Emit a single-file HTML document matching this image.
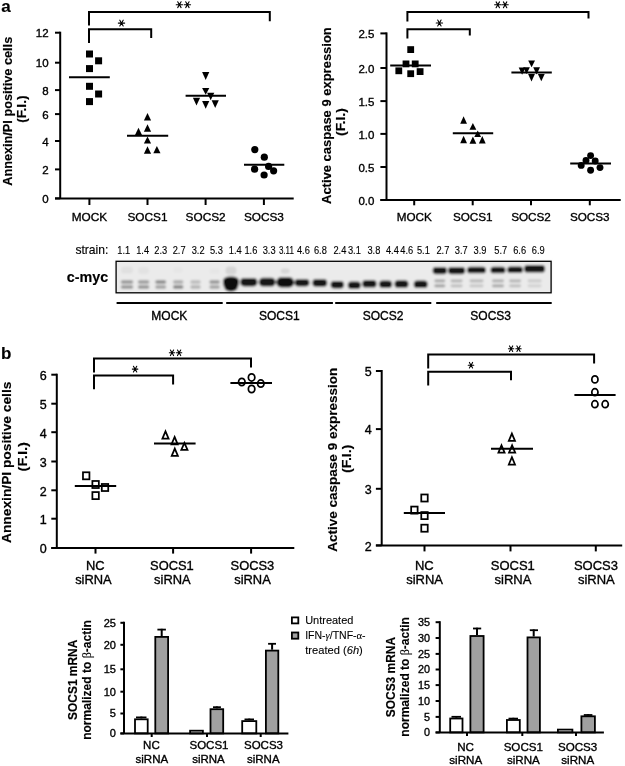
<!DOCTYPE html>
<html><head><meta charset="utf-8"><style>
html,body{margin:0;padding:0;background:#fff;}
body{width:625px;height:766px;overflow:hidden;}
svg{display:block;font-family:"Liberation Sans", sans-serif;will-change:transform;}
text{fill:#000;stroke:#000;stroke-width:0.35px;} text[font-weight=bold]{stroke-width:0.15px;}
</style></head><body>
<svg width="625" height="766" viewBox="0 0 625 766">
<defs><filter id="bl" x="-5%" y="-20%" width="110%" height="140%"><feGaussianBlur stdDeviation="1.0"/></filter></defs>
<rect width="625" height="766" fill="#fff"/>
<text x="1.20" y="11.60" font-size="17" text-anchor="start" font-weight="bold">a</text>
<line x1="60.20" y1="31.70" x2="60.20" y2="198.40" stroke="#000" stroke-width="2.0"/>
<line x1="55.00" y1="32.70" x2="60.20" y2="32.70" stroke="#000" stroke-width="2.0"/>
<text x="48.60" y="37.22" font-size="11.5" text-anchor="end">12</text>
<line x1="55.00" y1="62.70" x2="60.20" y2="62.70" stroke="#000" stroke-width="2.0"/>
<text x="48.60" y="67.22" font-size="11.5" text-anchor="end">10</text>
<line x1="55.00" y1="90.10" x2="60.20" y2="90.10" stroke="#000" stroke-width="2.0"/>
<text x="48.60" y="94.62" font-size="11.5" text-anchor="end">8</text>
<line x1="55.00" y1="114.10" x2="60.20" y2="114.10" stroke="#000" stroke-width="2.0"/>
<text x="48.60" y="118.62" font-size="11.5" text-anchor="end">6</text>
<line x1="55.00" y1="141.00" x2="60.20" y2="141.00" stroke="#000" stroke-width="2.0"/>
<text x="48.60" y="145.52" font-size="11.5" text-anchor="end">4</text>
<line x1="55.00" y1="169.40" x2="60.20" y2="169.40" stroke="#000" stroke-width="2.0"/>
<text x="48.60" y="173.92" font-size="11.5" text-anchor="end">2</text>
<line x1="55.00" y1="198.40" x2="60.20" y2="198.40" stroke="#000" stroke-width="2.0"/>
<text x="48.60" y="202.92" font-size="11.5" text-anchor="end">0</text>
<line x1="55.00" y1="198.40" x2="293.70" y2="198.40" stroke="#000" stroke-width="2.0"/>
<line x1="89.40" y1="198.40" x2="89.40" y2="205.00" stroke="#000" stroke-width="2.0"/>
<text x="89.40" y="221.20" font-size="11.8" text-anchor="middle">MOCK</text>
<line x1="147.50" y1="198.40" x2="147.50" y2="205.00" stroke="#000" stroke-width="2.0"/>
<text x="147.50" y="221.20" font-size="11.8" text-anchor="middle">SOCS1</text>
<line x1="205.60" y1="198.40" x2="205.60" y2="205.00" stroke="#000" stroke-width="2.0"/>
<text x="205.60" y="221.20" font-size="11.8" text-anchor="middle">SOCS2</text>
<line x1="263.90" y1="198.40" x2="263.90" y2="205.00" stroke="#000" stroke-width="2.0"/>
<text x="263.90" y="221.20" font-size="11.8" text-anchor="middle">SOCS3</text>
<polyline points="89.00,25.60 89.00,12.00 269.80,12.00 269.80,21.30" fill="none" stroke="#000" stroke-width="2.0"/>
<polyline points="89.00,42.90 89.00,29.30 151.20,29.30 151.20,38.00" fill="none" stroke="#000" stroke-width="2.0"/>
<path d="M118.33,23.10H124.67M119.81,20.18L123.19,26.02M123.19,20.18L119.81,26.02" stroke="#000" stroke-width="1.1" fill="none" stroke-linecap="round"/>
<path d="M176.23,4.70H182.57M177.71,1.78L181.09,7.62M181.09,1.78L177.71,7.62" stroke="#000" stroke-width="1.1" fill="none" stroke-linecap="round"/>
<path d="M184.23,4.70H190.57M185.71,1.78L189.09,7.62M189.09,1.78L185.71,7.62" stroke="#000" stroke-width="1.1" fill="none" stroke-linecap="round"/>
<rect x="86.00" y="50.50" width="7.0" height="7.0" fill="#000"/>
<rect x="95.10" y="57.30" width="7.0" height="7.0" fill="#000"/>
<rect x="86.00" y="65.10" width="7.0" height="7.0" fill="#000"/>
<rect x="86.00" y="82.80" width="7.0" height="7.0" fill="#000"/>
<rect x="95.10" y="90.50" width="7.0" height="7.0" fill="#000"/>
<rect x="86.00" y="98.10" width="7.0" height="7.0" fill="#000"/>
<line x1="69.00" y1="77.30" x2="109.80" y2="77.30" stroke="#000" stroke-width="2.0"/>
<polygon points="147.50,113.10 151.10,120.50 143.90,120.50" fill="#000"/>
<polygon points="147.50,124.30 151.10,131.70 143.90,131.70" fill="#000"/>
<polygon points="138.50,127.70 142.10,135.20 134.90,135.20" fill="#000"/>
<polygon points="147.50,136.40 151.10,143.60 143.90,143.60" fill="#000"/>
<polygon points="147.50,146.20 151.10,153.70 143.90,153.70" fill="#000"/>
<polygon points="156.90,145.90 160.50,153.20 153.30,153.20" fill="#000"/>
<line x1="127.00" y1="135.80" x2="168.20" y2="135.80" stroke="#000" stroke-width="2.0"/>
<polygon points="202.10,72.10 209.30,72.10 205.70,79.90" fill="#000"/>
<polygon points="202.10,88.00 209.30,88.00 205.70,94.70" fill="#000"/>
<polygon points="207.10,92.80 214.30,92.80 210.70,100.30" fill="#000"/>
<polygon points="192.90,97.80 200.10,97.80 196.50,105.40" fill="#000"/>
<polygon points="202.10,100.90 209.30,100.90 205.70,108.70" fill="#000"/>
<polygon points="211.60,100.30 218.80,100.30 215.20,107.90" fill="#000"/>
<line x1="185.60" y1="95.80" x2="226.00" y2="95.80" stroke="#000" stroke-width="2.0"/>
<circle cx="254.80" cy="149.60" r="3.60" fill="#000"/>
<circle cx="264.30" cy="157.20" r="3.60" fill="#000"/>
<circle cx="268.60" cy="166.40" r="3.60" fill="#000"/>
<circle cx="254.60" cy="169.20" r="3.60" fill="#000"/>
<circle cx="273.60" cy="170.80" r="3.60" fill="#000"/>
<circle cx="264.10" cy="175.00" r="3.60" fill="#000"/>
<line x1="244.00" y1="164.70" x2="284.30" y2="164.70" stroke="#000" stroke-width="2.0"/>
<text transform="translate(12.10,111.30) rotate(-90)" x="0" y="0" font-size="12.8" text-anchor="middle" font-weight="bold" textLength="149" lengthAdjust="spacingAndGlyphs">Annexin/PI positive cells</text>
<text transform="translate(26.00,109.15) rotate(-90)" x="0" y="0" font-size="12.8" text-anchor="middle" font-weight="bold" textLength="27.2" lengthAdjust="spacingAndGlyphs">(F.I.)</text>
<line x1="386.50" y1="32.40" x2="386.50" y2="200.00" stroke="#000" stroke-width="2.0"/>
<line x1="380.40" y1="33.40" x2="386.50" y2="33.40" stroke="#000" stroke-width="2.0"/>
<text x="374.40" y="38.32" font-size="11.5" text-anchor="end">2.5</text>
<line x1="380.40" y1="68.00" x2="386.50" y2="68.00" stroke="#000" stroke-width="2.0"/>
<text x="374.40" y="72.92" font-size="11.5" text-anchor="end">2.0</text>
<line x1="380.40" y1="101.10" x2="386.50" y2="101.10" stroke="#000" stroke-width="2.0"/>
<text x="374.40" y="106.02" font-size="11.5" text-anchor="end">1.5</text>
<line x1="380.40" y1="133.90" x2="386.50" y2="133.90" stroke="#000" stroke-width="2.0"/>
<text x="374.40" y="138.82" font-size="11.5" text-anchor="end">1.0</text>
<line x1="380.40" y1="167.00" x2="386.50" y2="167.00" stroke="#000" stroke-width="2.0"/>
<text x="374.40" y="171.92" font-size="11.5" text-anchor="end">0.5</text>
<line x1="380.40" y1="200.00" x2="386.50" y2="200.00" stroke="#000" stroke-width="2.0"/>
<text x="374.40" y="204.92" font-size="11.5" text-anchor="end">0.0</text>
<line x1="380.40" y1="200.00" x2="620.70" y2="200.00" stroke="#000" stroke-width="2.0"/>
<line x1="414.20" y1="200.00" x2="414.20" y2="205.30" stroke="#000" stroke-width="2.0"/>
<text x="414.20" y="221.30" font-size="11.7" text-anchor="middle">MOCK</text>
<line x1="472.70" y1="200.00" x2="472.70" y2="205.30" stroke="#000" stroke-width="2.0"/>
<text x="472.70" y="221.30" font-size="11.7" text-anchor="middle">SOCS1</text>
<line x1="531.00" y1="200.00" x2="531.00" y2="205.30" stroke="#000" stroke-width="2.0"/>
<text x="531.00" y="221.30" font-size="11.7" text-anchor="middle">SOCS2</text>
<line x1="589.80" y1="200.00" x2="589.80" y2="205.30" stroke="#000" stroke-width="2.0"/>
<text x="589.80" y="221.30" font-size="11.7" text-anchor="middle">SOCS3</text>
<polyline points="407.40,21.60 407.40,12.00 588.50,12.00 588.50,18.40" fill="none" stroke="#000" stroke-width="2.0"/>
<polyline points="407.40,38.40 407.40,29.30 469.80,29.30 469.80,35.50" fill="none" stroke="#000" stroke-width="2.0"/>
<path d="M436.23,23.00H442.57M437.71,20.08L441.09,25.92M441.09,20.08L437.71,25.92" stroke="#000" stroke-width="1.1" fill="none" stroke-linecap="round"/>
<path d="M494.63,4.80H500.97M496.11,1.88L499.49,7.72M499.49,1.88L496.11,7.72" stroke="#000" stroke-width="1.1" fill="none" stroke-linecap="round"/>
<path d="M501.93,4.80H508.27M503.41,1.88L506.79,7.72M506.79,1.88L503.41,7.72" stroke="#000" stroke-width="1.1" fill="none" stroke-linecap="round"/>
<rect x="407.30" y="46.20" width="6.8" height="6.8" fill="#000"/>
<rect x="402.60" y="60.50" width="6.8" height="6.8" fill="#000"/>
<rect x="411.80" y="60.50" width="6.8" height="6.8" fill="#000"/>
<rect x="395.40" y="67.40" width="6.8" height="6.8" fill="#000"/>
<rect x="407.30" y="70.30" width="6.8" height="6.8" fill="#000"/>
<rect x="416.70" y="68.20" width="6.8" height="6.8" fill="#000"/>
<line x1="390.20" y1="65.60" x2="431.00" y2="65.60" stroke="#000" stroke-width="2.0"/>
<polygon points="463.60,116.20 467.00,123.80 460.20,123.80" fill="#000"/>
<polygon points="472.90,123.00 476.30,129.80 469.50,129.80" fill="#000"/>
<polygon points="477.70,130.40 481.10,137.00 474.30,137.00" fill="#000"/>
<polygon points="463.60,135.80 467.00,143.20 460.20,143.20" fill="#000"/>
<polygon points="472.90,136.60 476.30,143.80 469.50,143.80" fill="#000"/>
<polygon points="482.30,136.00 485.70,143.40 478.90,143.40" fill="#000"/>
<line x1="452.80" y1="133.20" x2="493.20" y2="133.20" stroke="#000" stroke-width="2.0"/>
<polygon points="528.20,60.40 535.00,60.40 531.60,67.20" fill="#000"/>
<polygon points="518.70,67.40 525.50,67.40 522.10,74.80" fill="#000"/>
<polygon points="523.10,67.20 529.90,67.20 526.50,74.00" fill="#000"/>
<polygon points="533.20,67.20 540.00,67.20 536.60,74.40" fill="#000"/>
<polygon points="528.10,74.00 534.90,74.00 531.50,81.60" fill="#000"/>
<polygon points="537.90,74.00 544.70,74.00 541.30,81.20" fill="#000"/>
<line x1="511.40" y1="72.40" x2="551.80" y2="72.40" stroke="#000" stroke-width="2.0"/>
<circle cx="590.60" cy="155.60" r="3.45" fill="#000"/>
<circle cx="586.00" cy="160.40" r="3.45" fill="#000"/>
<circle cx="595.20" cy="161.00" r="3.45" fill="#000"/>
<circle cx="581.20" cy="165.40" r="3.45" fill="#000"/>
<circle cx="600.00" cy="167.60" r="3.45" fill="#000"/>
<circle cx="590.60" cy="170.20" r="3.45" fill="#000"/>
<line x1="570.20" y1="163.40" x2="611.00" y2="163.40" stroke="#000" stroke-width="2.0"/>
<text transform="translate(331.00,115.60) rotate(-90)" x="0" y="0" font-size="12.8" text-anchor="middle" font-weight="bold" textLength="176.8" lengthAdjust="spacingAndGlyphs">Active caspase 9 expression</text>
<text transform="translate(345.20,122.10) rotate(-90)" x="0" y="0" font-size="12.8" text-anchor="middle" font-weight="bold" textLength="27.8" lengthAdjust="spacingAndGlyphs">(F.I.)</text>
<text x="75.40" y="253.90" font-size="12.8" text-anchor="start" textLength="33.0" lengthAdjust="spacingAndGlyphs" style="stroke-width:0.15px">strain:</text>
<text x="66.80" y="281.70" font-size="14" text-anchor="start" font-weight="bold" textLength="41.4" lengthAdjust="spacingAndGlyphs">c-myc</text>
<text x="123.70" y="254.30" font-size="10" text-anchor="middle" textLength="12.9" lengthAdjust="spacingAndGlyphs" style="stroke-width:0.12px">1.1</text>
<text x="142.60" y="254.30" font-size="10" text-anchor="middle" textLength="12.9" lengthAdjust="spacingAndGlyphs" style="stroke-width:0.12px">1.4</text>
<text x="160.70" y="254.30" font-size="10" text-anchor="middle" textLength="12.9" lengthAdjust="spacingAndGlyphs" style="stroke-width:0.12px">2.3</text>
<text x="179.10" y="254.30" font-size="10" text-anchor="middle" textLength="12.9" lengthAdjust="spacingAndGlyphs" style="stroke-width:0.12px">2.7</text>
<text x="198.10" y="254.30" font-size="10" text-anchor="middle" textLength="12.9" lengthAdjust="spacingAndGlyphs" style="stroke-width:0.12px">3.2</text>
<text x="216.40" y="254.30" font-size="10" text-anchor="middle" textLength="12.9" lengthAdjust="spacingAndGlyphs" style="stroke-width:0.12px">5.3</text>
<text x="235.30" y="254.30" font-size="10" text-anchor="middle" textLength="12.9" lengthAdjust="spacingAndGlyphs" style="stroke-width:0.12px">1.4</text>
<text x="250.90" y="254.30" font-size="10" text-anchor="middle" textLength="12.9" lengthAdjust="spacingAndGlyphs" style="stroke-width:0.12px">1.6</text>
<text x="269.10" y="254.30" font-size="10" text-anchor="middle" textLength="12.9" lengthAdjust="spacingAndGlyphs" style="stroke-width:0.12px">3.3</text>
<text x="286.40" y="254.30" font-size="10" text-anchor="middle" textLength="15.0" lengthAdjust="spacingAndGlyphs" style="stroke-width:0.12px">3.11</text>
<text x="303.40" y="254.30" font-size="10" text-anchor="middle" textLength="12.9" lengthAdjust="spacingAndGlyphs" style="stroke-width:0.12px">4.6</text>
<text x="320.40" y="254.30" font-size="10" text-anchor="middle" textLength="12.9" lengthAdjust="spacingAndGlyphs" style="stroke-width:0.12px">6.8</text>
<text x="339.90" y="254.30" font-size="10" text-anchor="middle" textLength="12.9" lengthAdjust="spacingAndGlyphs" style="stroke-width:0.12px">2.4</text>
<text x="354.40" y="254.30" font-size="10" text-anchor="middle" textLength="12.9" lengthAdjust="spacingAndGlyphs" style="stroke-width:0.12px">3.1</text>
<text x="373.90" y="254.30" font-size="10" text-anchor="middle" textLength="12.9" lengthAdjust="spacingAndGlyphs" style="stroke-width:0.12px">3.8</text>
<text x="392.40" y="254.30" font-size="10" text-anchor="middle" textLength="12.9" lengthAdjust="spacingAndGlyphs" style="stroke-width:0.12px">4.4</text>
<text x="406.80" y="254.30" font-size="10" text-anchor="middle" textLength="12.9" lengthAdjust="spacingAndGlyphs" style="stroke-width:0.12px">4.6</text>
<text x="423.40" y="254.30" font-size="10" text-anchor="middle" textLength="12.9" lengthAdjust="spacingAndGlyphs" style="stroke-width:0.12px">5.1</text>
<text x="442.90" y="254.30" font-size="10" text-anchor="middle" textLength="12.9" lengthAdjust="spacingAndGlyphs" style="stroke-width:0.12px">2.7</text>
<text x="461.20" y="254.30" font-size="10" text-anchor="middle" textLength="12.9" lengthAdjust="spacingAndGlyphs" style="stroke-width:0.12px">3.7</text>
<text x="480.00" y="254.30" font-size="10" text-anchor="middle" textLength="12.9" lengthAdjust="spacingAndGlyphs" style="stroke-width:0.12px">3.9</text>
<text x="500.80" y="254.30" font-size="10" text-anchor="middle" textLength="12.9" lengthAdjust="spacingAndGlyphs" style="stroke-width:0.12px">5.7</text>
<text x="519.60" y="254.30" font-size="10" text-anchor="middle" textLength="12.9" lengthAdjust="spacingAndGlyphs" style="stroke-width:0.12px">6.6</text>
<text x="538.30" y="254.30" font-size="10" text-anchor="middle" textLength="12.9" lengthAdjust="spacingAndGlyphs" style="stroke-width:0.12px">6.9</text>
<g filter="url(#bl)"><rect x="115.5" y="260.7" width="436.3" height="32.6" fill="#ebebeb"/><rect x="120.75" y="280.20" width="12.50" height="3.60" rx="1.73" ry="1.73" fill="#979797" opacity="1.0"/><rect x="120.75" y="285.20" width="12.50" height="3.60" rx="1.73" ry="1.73" fill="#979797" opacity="1.0"/><rect x="137.85" y="280.20" width="11.50" height="3.60" rx="1.73" ry="1.73" fill="#9c9c9c" opacity="1.0"/><rect x="137.85" y="285.20" width="11.50" height="3.60" rx="1.73" ry="1.73" fill="#959595" opacity="1.0"/><rect x="155.20" y="280.20" width="11.00" height="3.60" rx="1.73" ry="1.73" fill="#8a8a8a" opacity="1.0"/><rect x="155.20" y="285.20" width="11.00" height="3.60" rx="1.73" ry="1.73" fill="#a2a2a2" opacity="1.0"/><rect x="172.95" y="280.20" width="10.50" height="3.60" rx="1.73" ry="1.73" fill="#acacac" opacity="1.0"/><rect x="172.95" y="285.20" width="10.50" height="3.60" rx="1.73" ry="1.73" fill="#858585" opacity="1.0"/><rect x="190.25" y="280.20" width="10.50" height="3.60" rx="1.73" ry="1.73" fill="#bcbcbc" opacity="1.0"/><rect x="190.25" y="285.20" width="10.50" height="3.60" rx="1.73" ry="1.73" fill="#b4b4b4" opacity="1.0"/><rect x="209.35" y="280.20" width="10.50" height="3.60" rx="1.73" ry="1.73" fill="#959595" opacity="1.0"/><rect x="209.35" y="285.20" width="10.50" height="3.60" rx="1.73" ry="1.73" fill="#a4a4a4" opacity="1.0"/><rect x="121.00" y="266.50" width="12.00" height="7.00" rx="3.36" ry="3.36" fill="#e0e0e0" opacity="1.0"/><rect x="138.10" y="267.00" width="11.00" height="7.00" rx="3.36" ry="3.36" fill="#e2e2e2" opacity="1.0"/><rect x="173.20" y="267.00" width="10.00" height="6.00" rx="2.88" ry="2.88" fill="#e6e6e6" opacity="1.0"/><rect x="209.60" y="268.00" width="10.00" height="6.00" rx="2.88" ry="2.88" fill="#e6e6e6" opacity="1.0"/><path d="M222.9,281.5 Q222.9,276.6 231,276.6 Q239.1,276.6 239.1,281.5 Q239.1,285 237.3,288.6 Q236.4,291.4 231,291.4 Q225.6,291.4 224.7,288.6 Q222.9,285 222.9,281.5 Z" fill="#0c0c0c"/><rect x="225.50" y="266.50" width="11.00" height="8.00" rx="3.84" ry="3.84" fill="#d4d4d4" opacity="1.0"/><rect x="240.20" y="278.00" width="17.20" height="8.40" rx="4.03" ry="4.03" fill="#161616" opacity="1.0"/><rect x="258.80" y="277.70" width="16.80" height="8.80" rx="4.22" ry="4.22" fill="#161616" opacity="1.0"/><rect x="276.30" y="277.20" width="17.80" height="10.20" rx="4.90" ry="4.90" fill="#101010" opacity="1.0"/><rect x="280.70" y="268.50" width="9.00" height="5.00" rx="2.40" ry="2.40" fill="#d6d6d6" opacity="1.0"/><rect x="294.50" y="279.00" width="15.00" height="7.40" rx="3.55" ry="3.55" fill="#181818" opacity="1.0"/><rect x="312.35" y="278.90" width="14.90" height="7.80" rx="3.74" ry="3.74" fill="#181818" opacity="1.0"/><rect x="330.55" y="280.90" width="13.50" height="7.60" rx="3.65" ry="3.65" fill="#141414" opacity="1.0"/><rect x="347.75" y="281.40" width="13.10" height="7.60" rx="3.65" ry="3.65" fill="#141414" opacity="1.0"/><rect x="362.20" y="280.00" width="14.40" height="7.60" rx="3.65" ry="3.65" fill="#141414" opacity="1.0"/><rect x="379.05" y="280.40" width="13.10" height="7.60" rx="3.65" ry="3.65" fill="#141414" opacity="1.0"/><rect x="394.50" y="280.20" width="14.00" height="7.60" rx="3.65" ry="3.65" fill="#141414" opacity="1.0"/><rect x="413.70" y="280.50" width="14.00" height="7.60" rx="3.65" ry="3.65" fill="#141414" opacity="1.0"/><rect x="432.60" y="267.10" width="14.40" height="7.20" rx="3.46" ry="3.46" fill="#121212" opacity="1.0"/><rect x="447.95" y="267.10" width="17.30" height="7.20" rx="3.46" ry="3.46" fill="#121212" opacity="1.0"/><rect x="467.10" y="266.65" width="18.80" height="6.70" rx="3.22" ry="3.22" fill="#121212" opacity="1.0"/><rect x="490.50" y="266.70" width="15.00" height="6.60" rx="3.17" ry="3.17" fill="#121212" opacity="1.0"/><rect x="507.25" y="266.55" width="15.70" height="6.50" rx="3.12" ry="3.12" fill="#121212" opacity="1.0"/><rect x="524.05" y="265.00" width="21.10" height="7.60" rx="3.65" ry="3.65" fill="#121212" opacity="1.0"/><rect x="434.30" y="279.40" width="11.00" height="2.80" rx="1.34" ry="1.34" fill="#a4a4a4" opacity="1.0"/><rect x="434.30" y="284.40" width="11.00" height="2.80" rx="1.34" ry="1.34" fill="#9c9c9c" opacity="1.0"/><rect x="450.60" y="279.40" width="12.00" height="2.80" rx="1.34" ry="1.34" fill="#b0b0b0" opacity="1.0"/><rect x="450.60" y="284.40" width="12.00" height="2.80" rx="1.34" ry="1.34" fill="#bcbcbc" opacity="1.0"/><rect x="469.50" y="279.40" width="14.00" height="2.80" rx="1.34" ry="1.34" fill="#b4b4b4" opacity="1.0"/><rect x="469.50" y="284.40" width="14.00" height="2.80" rx="1.34" ry="1.34" fill="#c4c4c4" opacity="1.0"/><rect x="492.00" y="279.40" width="12.00" height="2.80" rx="1.34" ry="1.34" fill="#acacac" opacity="1.0"/><rect x="492.00" y="284.40" width="12.00" height="2.80" rx="1.34" ry="1.34" fill="#a4a4a4" opacity="1.0"/><rect x="509.10" y="279.40" width="12.00" height="2.80" rx="1.34" ry="1.34" fill="#b0b0b0" opacity="1.0"/><rect x="509.10" y="284.40" width="12.00" height="2.80" rx="1.34" ry="1.34" fill="#bcbcbc" opacity="1.0"/><rect x="527.60" y="279.40" width="14.00" height="2.80" rx="1.34" ry="1.34" fill="#c8c8c8" opacity="1.0"/><rect x="527.60" y="284.40" width="14.00" height="2.80" rx="1.34" ry="1.34" fill="#d0d0d0" opacity="1.0"/></g>
<rect x="116.1" y="261.3" width="435.0" height="31.5" fill="none" stroke="#000" stroke-width="1.3"/>
<line x1="116.60" y1="302.90" x2="222.70" y2="302.90" stroke="#000" stroke-width="2.0"/>
<text x="169.30" y="320.40" font-size="12" text-anchor="middle">MOCK</text>
<line x1="226.20" y1="302.90" x2="332.90" y2="302.90" stroke="#000" stroke-width="2.0"/>
<text x="279.30" y="320.40" font-size="12" text-anchor="middle">SOCS1</text>
<line x1="335.20" y1="302.90" x2="431.30" y2="302.90" stroke="#000" stroke-width="2.0"/>
<text x="383.00" y="320.40" font-size="12" text-anchor="middle">SOCS2</text>
<line x1="436.20" y1="302.90" x2="551.70" y2="302.90" stroke="#000" stroke-width="2.0"/>
<text x="490.70" y="320.40" font-size="12" text-anchor="middle">SOCS3</text>
<text x="1.00" y="358.80" font-size="17" text-anchor="start" font-weight="bold">b</text>
<line x1="56.80" y1="373.70" x2="56.80" y2="548.00" stroke="#000" stroke-width="2.0"/>
<line x1="51.30" y1="374.70" x2="56.80" y2="374.70" stroke="#000" stroke-width="2.0"/>
<text x="46.60" y="380.18" font-size="12.5" text-anchor="end">6</text>
<line x1="51.30" y1="403.70" x2="56.80" y2="403.70" stroke="#000" stroke-width="2.0"/>
<text x="46.60" y="409.18" font-size="12.5" text-anchor="end">5</text>
<line x1="51.30" y1="432.20" x2="56.80" y2="432.20" stroke="#000" stroke-width="2.0"/>
<text x="46.60" y="437.68" font-size="12.5" text-anchor="end">4</text>
<line x1="51.30" y1="461.50" x2="56.80" y2="461.50" stroke="#000" stroke-width="2.0"/>
<text x="46.60" y="466.98" font-size="12.5" text-anchor="end">3</text>
<line x1="51.30" y1="490.30" x2="56.80" y2="490.30" stroke="#000" stroke-width="2.0"/>
<text x="46.60" y="495.78" font-size="12.5" text-anchor="end">2</text>
<line x1="51.30" y1="518.70" x2="56.80" y2="518.70" stroke="#000" stroke-width="2.0"/>
<text x="46.60" y="524.18" font-size="12.5" text-anchor="end">1</text>
<line x1="51.30" y1="548.00" x2="56.80" y2="548.00" stroke="#000" stroke-width="2.0"/>
<text x="46.60" y="553.48" font-size="12.5" text-anchor="end">0</text>
<line x1="51.30" y1="548.00" x2="294.30" y2="548.00" stroke="#000" stroke-width="2.0"/>
<line x1="95.50" y1="548.00" x2="95.50" y2="553.60" stroke="#000" stroke-width="2.0"/>
<text x="95.30" y="569.60" font-size="12.9" text-anchor="middle">NC</text>
<text x="93.40" y="584.30" font-size="12.9" text-anchor="middle">siRNA</text>
<line x1="173.10" y1="548.00" x2="173.10" y2="553.60" stroke="#000" stroke-width="2.0"/>
<text x="171.90" y="569.60" font-size="12.9" text-anchor="middle">SOCS1</text>
<text x="172.35" y="584.30" font-size="12.9" text-anchor="middle">siRNA</text>
<line x1="251.10" y1="548.00" x2="251.10" y2="553.60" stroke="#000" stroke-width="2.0"/>
<text x="252.40" y="569.60" font-size="12.9" text-anchor="middle">SOCS3</text>
<text x="252.50" y="584.30" font-size="12.9" text-anchor="middle">siRNA</text>
<polyline points="94.00,372.50 94.00,358.60 251.00,358.60 251.00,367.50" fill="none" stroke="#000" stroke-width="2.0"/>
<polyline points="94.00,389.30 94.00,375.40 173.10,375.40 173.10,384.40" fill="none" stroke="#000" stroke-width="2.0"/>
<path d="M132.33,369.10H137.87M133.44,366.23L136.76,371.97M136.76,366.23L133.44,371.97" stroke="#000" stroke-width="1.1" fill="none" stroke-linecap="round"/>
<path d="M169.33,352.80H174.67M170.40,350.03L173.60,355.57M173.60,350.03L170.40,355.57" stroke="#000" stroke-width="1.1" fill="none" stroke-linecap="round"/>
<path d="M176.43,352.80H181.77M177.50,350.03L180.70,355.57M180.70,350.03L177.50,355.57" stroke="#000" stroke-width="1.1" fill="none" stroke-linecap="round"/>
<rect x="82.98" y="472.28" width="6.45" height="7.05" fill="none" stroke="#000" stroke-width="1.75"/>
<rect x="92.38" y="480.98" width="6.45" height="7.05" fill="none" stroke="#000" stroke-width="1.75"/>
<rect x="101.78" y="483.98" width="6.45" height="7.05" fill="none" stroke="#000" stroke-width="1.75"/>
<rect x="92.38" y="492.08" width="6.45" height="7.05" fill="none" stroke="#000" stroke-width="1.75"/>
<line x1="74.80" y1="486.00" x2="116.20" y2="486.00" stroke="#000" stroke-width="2.0"/>
<polygon points="165.50,431.35 168.60,438.73 162.40,438.73" fill="none" stroke="#000" stroke-width="1.75" stroke-linejoin="miter"/>
<polygon points="174.60,436.95 177.70,444.32 171.50,444.32" fill="none" stroke="#000" stroke-width="1.75" stroke-linejoin="miter"/>
<polygon points="184.40,442.95 187.50,449.93 181.30,449.93" fill="none" stroke="#000" stroke-width="1.75" stroke-linejoin="miter"/>
<polygon points="174.80,448.55 177.90,455.93 171.70,455.93" fill="none" stroke="#000" stroke-width="1.75" stroke-linejoin="miter"/>
<line x1="154.00" y1="443.40" x2="195.60" y2="443.40" stroke="#000" stroke-width="2.0"/>
<ellipse cx="241.80" cy="382.00" rx="3.22" ry="3.62" fill="none" stroke="#000" stroke-width="1.75"/>
<ellipse cx="251.60" cy="377.40" rx="3.22" ry="3.62" fill="none" stroke="#000" stroke-width="1.75"/>
<ellipse cx="260.80" cy="383.60" rx="3.22" ry="3.62" fill="none" stroke="#000" stroke-width="1.75"/>
<ellipse cx="251.60" cy="389.00" rx="3.22" ry="3.62" fill="none" stroke="#000" stroke-width="1.75"/>
<line x1="230.40" y1="383.00" x2="272.00" y2="383.00" stroke="#000" stroke-width="2.0"/>
<text transform="translate(10.90,462.30) rotate(-90)" x="0" y="0" font-size="13.2" text-anchor="middle" font-weight="bold" textLength="161.4" lengthAdjust="spacingAndGlyphs">Annexin/PI positive cells</text>
<text transform="translate(27.00,456.75) rotate(-90)" x="0" y="0" font-size="13.2" text-anchor="middle" font-weight="bold" textLength="29.4" lengthAdjust="spacingAndGlyphs">(F.I.)</text>
<line x1="381.70" y1="370.00" x2="381.70" y2="545.40" stroke="#000" stroke-width="2.0"/>
<line x1="375.90" y1="371.00" x2="381.70" y2="371.00" stroke="#000" stroke-width="2.0"/>
<text x="371.80" y="376.38" font-size="12.5" text-anchor="end">5</text>
<line x1="375.90" y1="429.10" x2="381.70" y2="429.10" stroke="#000" stroke-width="2.0"/>
<text x="371.80" y="434.48" font-size="12.5" text-anchor="end">4</text>
<line x1="375.90" y1="488.80" x2="381.70" y2="488.80" stroke="#000" stroke-width="2.0"/>
<text x="371.80" y="494.18" font-size="12.5" text-anchor="end">3</text>
<line x1="375.90" y1="545.40" x2="381.70" y2="545.40" stroke="#000" stroke-width="2.0"/>
<text x="371.80" y="550.77" font-size="12.5" text-anchor="end">2</text>
<line x1="375.90" y1="545.40" x2="622.20" y2="545.40" stroke="#000" stroke-width="2.0"/>
<line x1="424.50" y1="545.40" x2="424.50" y2="551.40" stroke="#000" stroke-width="2.0"/>
<text x="424.35" y="569.60" font-size="13" text-anchor="middle">NC</text>
<text x="424.60" y="584.30" font-size="13" text-anchor="middle">siRNA</text>
<line x1="510.50" y1="545.40" x2="510.50" y2="551.40" stroke="#000" stroke-width="2.0"/>
<text x="512.80" y="569.60" font-size="13" text-anchor="middle">SOCS1</text>
<text x="513.00" y="584.30" font-size="13" text-anchor="middle">siRNA</text>
<line x1="595.80" y1="545.40" x2="595.80" y2="551.40" stroke="#000" stroke-width="2.0"/>
<text x="596.00" y="569.60" font-size="13" text-anchor="middle">SOCS3</text>
<text x="596.30" y="584.30" font-size="13" text-anchor="middle">siRNA</text>
<polyline points="428.20,368.40 428.20,354.40 594.10,354.40 594.10,363.60" fill="none" stroke="#000" stroke-width="2.0"/>
<polyline points="428.20,385.50 428.20,371.70 511.00,371.70 511.00,380.30" fill="none" stroke="#000" stroke-width="2.0"/>
<path d="M468.23,365.20H473.77M469.40,362.43L472.60,367.97M472.60,362.43L469.40,367.97" stroke="#000" stroke-width="1.1" fill="none" stroke-linecap="round"/>
<path d="M508.43,348.70H513.77M509.50,345.93L512.70,351.47M512.70,345.93L509.50,351.47" stroke="#000" stroke-width="1.1" fill="none" stroke-linecap="round"/>
<path d="M515.83,348.70H521.17M516.90,345.93L520.10,351.47M520.10,345.93L516.90,351.47" stroke="#000" stroke-width="1.1" fill="none" stroke-linecap="round"/>
<rect x="421.27" y="494.48" width="6.45" height="7.05" fill="none" stroke="#000" stroke-width="1.75"/>
<rect x="411.17" y="506.58" width="6.45" height="7.05" fill="none" stroke="#000" stroke-width="1.75"/>
<rect x="421.27" y="512.08" width="6.45" height="7.05" fill="none" stroke="#000" stroke-width="1.75"/>
<rect x="421.27" y="524.68" width="6.45" height="7.05" fill="none" stroke="#000" stroke-width="1.75"/>
<line x1="403.80" y1="513.00" x2="445.00" y2="513.00" stroke="#000" stroke-width="2.0"/>
<polygon points="511.90,433.55 515.00,440.93 508.80,440.93" fill="none" stroke="#000" stroke-width="1.75" stroke-linejoin="miter"/>
<polygon points="501.50,445.35 504.60,452.73 498.40,452.73" fill="none" stroke="#000" stroke-width="1.75" stroke-linejoin="miter"/>
<polygon points="512.10,445.35 515.20,452.73 509.00,452.73" fill="none" stroke="#000" stroke-width="1.75" stroke-linejoin="miter"/>
<polygon points="511.90,457.15 515.00,464.52 508.80,464.52" fill="none" stroke="#000" stroke-width="1.75" stroke-linejoin="miter"/>
<line x1="491.00" y1="448.80" x2="533.00" y2="448.80" stroke="#000" stroke-width="2.0"/>
<ellipse cx="594.90" cy="379.40" rx="3.08" ry="3.53" fill="none" stroke="#000" stroke-width="1.75"/>
<ellipse cx="594.90" cy="392.20" rx="3.08" ry="3.53" fill="none" stroke="#000" stroke-width="1.75"/>
<ellipse cx="594.90" cy="404.20" rx="3.08" ry="3.53" fill="none" stroke="#000" stroke-width="1.75"/>
<ellipse cx="605.20" cy="404.20" rx="3.08" ry="3.53" fill="none" stroke="#000" stroke-width="1.75"/>
<line x1="574.40" y1="395.00" x2="615.60" y2="395.00" stroke="#000" stroke-width="2.0"/>
<text transform="translate(336.50,459.75) rotate(-90)" x="0" y="0" font-size="13.2" text-anchor="middle" font-weight="bold" textLength="184" lengthAdjust="spacingAndGlyphs">Active caspase 9 expression</text>
<text transform="translate(350.80,458.75) rotate(-90)" x="0" y="0" font-size="13.2" text-anchor="middle" font-weight="bold" textLength="28.4" lengthAdjust="spacingAndGlyphs">(F.I.)</text>
<line x1="124.00" y1="621.80" x2="124.00" y2="733.40" stroke="#000" stroke-width="2.0"/>
<line x1="120.40" y1="622.80" x2="124.00" y2="622.80" stroke="#000" stroke-width="2.0"/>
<text x="115.90" y="626.74" font-size="11" text-anchor="end">25</text>
<line x1="120.40" y1="644.80" x2="124.00" y2="644.80" stroke="#000" stroke-width="2.0"/>
<text x="115.90" y="648.74" font-size="11" text-anchor="end">20</text>
<line x1="120.40" y1="669.30" x2="124.00" y2="669.30" stroke="#000" stroke-width="2.0"/>
<text x="115.90" y="673.24" font-size="11" text-anchor="end">15</text>
<line x1="120.40" y1="691.70" x2="124.00" y2="691.70" stroke="#000" stroke-width="2.0"/>
<text x="115.90" y="695.64" font-size="11" text-anchor="end">10</text>
<line x1="120.40" y1="713.50" x2="124.00" y2="713.50" stroke="#000" stroke-width="2.0"/>
<text x="115.90" y="717.44" font-size="11" text-anchor="end">5</text>
<line x1="120.40" y1="733.40" x2="124.00" y2="733.40" stroke="#000" stroke-width="2.0"/>
<text x="115.90" y="737.34" font-size="11" text-anchor="end">0</text>
<rect x="135.00" y="719.30" width="12.70" height="14.10" fill="#fff" stroke="#000" stroke-width="1.8"/>
<line x1="141.35" y1="716.60" x2="141.35" y2="718.40" stroke="#000" stroke-width="2.0"/>
<line x1="136.00" y1="717.40" x2="146.50" y2="717.40" stroke="#000" stroke-width="1.8"/>
<rect x="155.30" y="636.90" width="12.80" height="96.50" fill="#a0a0a0" stroke="#000" stroke-width="1.8"/>
<line x1="161.70" y1="628.80" x2="161.70" y2="636.00" stroke="#000" stroke-width="2.0"/>
<line x1="157.40" y1="629.60" x2="165.90" y2="629.60" stroke="#000" stroke-width="1.8"/>
<rect x="190.10" y="730.70" width="12.80" height="2.70" fill="#fff" stroke="#000" stroke-width="1.8"/>
<rect x="210.50" y="709.20" width="12.70" height="24.20" fill="#a0a0a0" stroke="#000" stroke-width="1.8"/>
<line x1="216.85" y1="706.40" x2="216.85" y2="708.30" stroke="#000" stroke-width="2.0"/>
<line x1="213.00" y1="707.20" x2="220.90" y2="707.20" stroke="#000" stroke-width="1.8"/>
<rect x="242.20" y="721.10" width="14.10" height="12.30" fill="#fff" stroke="#000" stroke-width="1.8"/>
<line x1="249.25" y1="718.60" x2="249.25" y2="720.20" stroke="#000" stroke-width="2.0"/>
<line x1="244.50" y1="719.40" x2="254.00" y2="719.40" stroke="#000" stroke-width="1.8"/>
<rect x="265.90" y="650.60" width="12.40" height="82.80" fill="#a0a0a0" stroke="#000" stroke-width="1.8"/>
<line x1="272.10" y1="643.00" x2="272.10" y2="649.70" stroke="#000" stroke-width="2.0"/>
<line x1="268.10" y1="643.80" x2="276.00" y2="643.80" stroke="#000" stroke-width="1.8"/>
<line x1="120.40" y1="733.40" x2="288.40" y2="733.40" stroke="#000" stroke-width="2.0"/>
<line x1="151.70" y1="733.40" x2="151.70" y2="737.00" stroke="#000" stroke-width="2.0"/>
<text x="151.40" y="749.30" font-size="11.5" text-anchor="middle">NC</text>
<text x="151.85" y="763.20" font-size="11.5" text-anchor="middle">siRNA</text>
<line x1="207.00" y1="733.40" x2="207.00" y2="737.00" stroke="#000" stroke-width="2.0"/>
<text x="209.00" y="749.30" font-size="11.5" text-anchor="middle">SOCS1</text>
<text x="208.50" y="763.20" font-size="11.5" text-anchor="middle">siRNA</text>
<line x1="260.70" y1="733.40" x2="260.70" y2="737.00" stroke="#000" stroke-width="2.0"/>
<text x="263.50" y="749.30" font-size="11.5" text-anchor="middle">SOCS3</text>
<text x="263.30" y="763.20" font-size="11.5" text-anchor="middle">siRNA</text>
<text transform="translate(77.30,679.80) rotate(-90)" x="0" y="0" font-size="12" text-anchor="middle" font-weight="bold" textLength="80.3" lengthAdjust="spacingAndGlyphs">SOCS1 mRNA</text>
<text transform="translate(91.20,680.00) rotate(-90)" x="0" y="0" font-size="12" text-anchor="middle" font-weight="bold" textLength="119.7" lengthAdjust="spacingAndGlyphs">normalized to <tspan font-family="Liberation Serif" font-weight="normal">β</tspan>-actin</text>
<rect x="291.9" y="617.4" width="6.4" height="6.0" fill="#fff" stroke="#000" stroke-width="1.8"/>
<rect x="291.9" y="632.5" width="6.4" height="6.2" fill="#a0a0a0" stroke="#000" stroke-width="1.8"/>
<text x="305.20" y="623.50" font-size="10.5" text-anchor="start" textLength="48.2" lengthAdjust="spacingAndGlyphs" style="stroke-width:0.1px">Untreated</text>
<text x="305.20" y="639.30" font-size="10.5" text-anchor="start" textLength="60.4" lengthAdjust="spacingAndGlyphs" style="stroke-width:0.1px">IFN-<tspan font-family="Liberation Serif" font-style="italic">γ</tspan>/TNF-<tspan font-family="Liberation Serif">α</tspan>-</text>
<text x="305.20" y="654.40" font-size="10.5" text-anchor="start" textLength="57.6" lengthAdjust="spacingAndGlyphs" style="stroke-width:0.1px">treated (<tspan font-style="italic">6h</tspan>)</text>
<line x1="439.80" y1="621.20" x2="439.80" y2="732.40" stroke="#000" stroke-width="2.0"/>
<line x1="435.60" y1="622.20" x2="439.80" y2="622.20" stroke="#000" stroke-width="2.0"/>
<text x="430.00" y="626.07" font-size="10.8" text-anchor="end">35</text>
<line x1="435.60" y1="638.00" x2="439.80" y2="638.00" stroke="#000" stroke-width="2.0"/>
<text x="430.00" y="641.87" font-size="10.8" text-anchor="end">30</text>
<line x1="435.60" y1="653.90" x2="439.80" y2="653.90" stroke="#000" stroke-width="2.0"/>
<text x="430.00" y="657.77" font-size="10.8" text-anchor="end">25</text>
<line x1="435.60" y1="669.50" x2="439.80" y2="669.50" stroke="#000" stroke-width="2.0"/>
<text x="430.00" y="673.37" font-size="10.8" text-anchor="end">20</text>
<line x1="435.60" y1="685.10" x2="439.80" y2="685.10" stroke="#000" stroke-width="2.0"/>
<text x="430.00" y="688.97" font-size="10.8" text-anchor="end">15</text>
<line x1="435.60" y1="701.00" x2="439.80" y2="701.00" stroke="#000" stroke-width="2.0"/>
<text x="430.00" y="704.87" font-size="10.8" text-anchor="end">10</text>
<line x1="435.60" y1="716.90" x2="439.80" y2="716.90" stroke="#000" stroke-width="2.0"/>
<text x="430.00" y="720.77" font-size="10.8" text-anchor="end">5</text>
<line x1="435.60" y1="732.40" x2="439.80" y2="732.40" stroke="#000" stroke-width="2.0"/>
<text x="430.00" y="736.27" font-size="10.8" text-anchor="end">0</text>
<rect x="450.20" y="718.50" width="12.30" height="13.90" fill="#fff" stroke="#000" stroke-width="1.8"/>
<line x1="456.35" y1="716.00" x2="456.35" y2="717.60" stroke="#000" stroke-width="2.0"/>
<line x1="451.50" y1="716.80" x2="461.00" y2="716.80" stroke="#000" stroke-width="1.8"/>
<rect x="470.40" y="636.00" width="13.20" height="96.40" fill="#a0a0a0" stroke="#000" stroke-width="1.8"/>
<line x1="477.00" y1="627.70" x2="477.00" y2="635.10" stroke="#000" stroke-width="2.0"/>
<line x1="473.00" y1="628.50" x2="481.20" y2="628.50" stroke="#000" stroke-width="1.8"/>
<rect x="506.90" y="720.00" width="12.90" height="12.40" fill="#fff" stroke="#000" stroke-width="1.8"/>
<line x1="513.35" y1="717.80" x2="513.35" y2="719.10" stroke="#000" stroke-width="2.0"/>
<line x1="508.50" y1="718.60" x2="518.00" y2="718.60" stroke="#000" stroke-width="1.8"/>
<rect x="527.50" y="637.40" width="12.40" height="95.00" fill="#a0a0a0" stroke="#000" stroke-width="1.8"/>
<line x1="533.70" y1="629.40" x2="533.70" y2="636.50" stroke="#000" stroke-width="2.0"/>
<line x1="529.80" y1="630.20" x2="538.00" y2="630.20" stroke="#000" stroke-width="1.8"/>
<rect x="557.90" y="729.60" width="14.50" height="2.80" fill="#fff" stroke="#000" stroke-width="1.8"/>
<rect x="581.40" y="716.30" width="13.50" height="16.10" fill="#a0a0a0" stroke="#000" stroke-width="1.8"/>
<line x1="588.15" y1="714.20" x2="588.15" y2="715.40" stroke="#000" stroke-width="2.0"/>
<line x1="583.80" y1="715.00" x2="592.40" y2="715.00" stroke="#000" stroke-width="1.8"/>
<line x1="435.60" y1="732.40" x2="603.90" y2="732.40" stroke="#000" stroke-width="2.0"/>
<line x1="467.00" y1="732.40" x2="467.00" y2="736.00" stroke="#000" stroke-width="2.0"/>
<text x="465.60" y="750.60" font-size="11.6" text-anchor="middle">NC</text>
<text x="465.75" y="763.80" font-size="11.6" text-anchor="middle">siRNA</text>
<line x1="522.30" y1="732.40" x2="522.30" y2="736.00" stroke="#000" stroke-width="2.0"/>
<text x="523.30" y="750.60" font-size="11.6" text-anchor="middle">SOCS1</text>
<text x="523.35" y="763.80" font-size="11.6" text-anchor="middle">siRNA</text>
<line x1="576.00" y1="732.40" x2="576.00" y2="736.00" stroke="#000" stroke-width="2.0"/>
<text x="577.65" y="750.60" font-size="11.6" text-anchor="middle">SOCS3</text>
<text x="577.70" y="763.80" font-size="11.6" text-anchor="middle">siRNA</text>
<text transform="translate(395.20,677.10) rotate(-90)" x="0" y="0" font-size="12" text-anchor="middle" font-weight="bold" textLength="80.2" lengthAdjust="spacingAndGlyphs">SOCS3 mRNA</text>
<text transform="translate(408.80,676.90) rotate(-90)" x="0" y="0" font-size="12" text-anchor="middle" font-weight="bold" textLength="119.6" lengthAdjust="spacingAndGlyphs">normalized to <tspan font-family="Liberation Serif" font-weight="normal">β</tspan>-actin</text>
</svg>
</body></html>
